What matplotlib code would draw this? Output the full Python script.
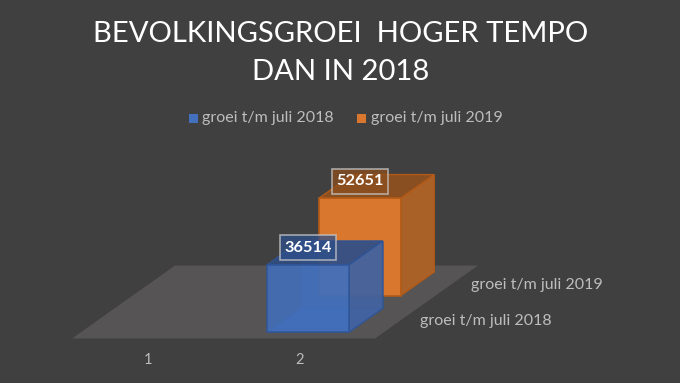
import matplotlib
matplotlib.use("Agg")
import matplotlib.pyplot as plt
from matplotlib.patches import Polygon, Rectangle

plt.rcParams["font.family"] = ["Lato", "DejaVu Sans"]

# --- Data ---
series_names = ["groei t/m juli 2018", "groei t/m juli 2019"]
series_values = [36514, 52651]
categories = ["1", "2"]
bar_category = 1  # both bars sit on the second category

# --- Colours ---
BG = "#404040"
FLOOR = "#565454"
TEXT = "#bdbdbd"
front_cols = ["#4270bd", "#d9772f"]
side_cols = ["#42629f", "#aa6128"]
top_cols = ["#2f4d85", "#8a4f20"]
edge_cols = ["#2f5597", "#b25a17"]
label_cols = ["#2f4f8a", "#8c4e1e"]

# --- Oblique projection, pixels of the 680x383 picture ---
X0, Y0 = 72, 338.5
CAT_W = 151.5       # px per category along the front edge
SLOT_DX, SLOT_DY = 51.5, 36.5   # px per series slot going back
PX_PER_UNIT = 1 / 541


def proj(x, z, v=0):
    return (X0 + CAT_W * x + SLOT_DX * z, Y0 - SLOT_DY * z - v * PX_PER_UNIT)


fig = plt.figure(figsize=(6.8, 3.83), dpi=100, facecolor=BG)
ax = fig.add_axes([0, 0, 1, 1])
ax.set_xlim(0, 680)
ax.set_ylim(383, 0)
ax.axis("off")

# Floor
n_cat, n_ser = len(categories), len(series_names)
ax.add_patch(Polygon([proj(0, 0), proj(n_cat, 0), proj(n_cat, n_ser), proj(0, n_ser)],
                     fc=FLOOR, ec="none", zorder=1))

# Bars, back one first so the front one covers it
BAR_W = 0.54
BAR_D = 0.65
for i in reversed(range(n_ser)):
    v = series_values[i]
    x0 = bar_category + (1 - BAR_W) / 2
    x1 = x0 + BAR_W
    z0 = i + (1 - BAR_D) / 2
    z1 = z0 + BAR_D
    z = 3 + (n_ser - i) * 2
    alpha = 0.86 if i == 0 else 1.0
    # hidden faces, only seen through the bar
    ax.add_patch(Polygon([proj(x0, z0), proj(x1, z0), proj(x1, z1), proj(x0, z1)],
                         fc=side_cols[i], ec=edge_cols[i], lw=0.5, zorder=z))
    ax.add_patch(Polygon([proj(x0, z1), proj(x1, z1), proj(x1, z1, v), proj(x0, z1, v)],
                         fc=side_cols[i], ec=edge_cols[i], lw=0.5, alpha=0.6, zorder=z))
    # visible faces
    ax.add_patch(Polygon([proj(x1, z0), proj(x1, z1), proj(x1, z1, v), proj(x1, z0, v)],
                         fc=side_cols[i], ec=edge_cols[i], lw=1, alpha=alpha, zorder=z))
    ax.add_patch(Polygon([proj(x0, z0, v), proj(x1, z0, v), proj(x1, z1, v), proj(x0, z1, v)],
                         fc=top_cols[i], ec=edge_cols[i], lw=1, alpha=alpha, zorder=z))
    ax.add_patch(Polygon([proj(x0, z0), proj(x1, z0), proj(x1, z0, v), proj(x0, z0, v)],
                         fc=front_cols[i], ec=edge_cols[i], lw=1.2, alpha=alpha, zorder=z))

# Data labels above the front top edge
for i in range(n_ser):
    v = series_values[i]
    cx, cy = proj(bar_category + 0.5, i + (1 - BAR_D) / 2, v)
    cy -= 17
    ax.add_patch(Rectangle((cx - 28, cy - 12.5), 56, 25, fc=label_cols[i], ec="#c8c8c8",
                           lw=1.2, alpha=0.75, zorder=20))
    ax.text(cx, cy, str(v), color="white", fontsize=11.8, fontweight="bold",
            ha="center", va="center", zorder=21)

# Category labels
for k, lab in enumerate(categories):
    px, _ = proj(k + 0.5, 0)
    ax.text(px, 360, lab, color=TEXT, fontsize=10.5, ha="center", va="center")

# Series labels on the depth axis
for i, name in enumerate(series_names):
    px, py = proj(n_cat, i + 0.5)
    ax.text(px + 19, py + 1, name, color=TEXT, fontsize=11.5, ha="left", va="center")

# Title
ax.text(340.5, 33.5, "BEVOLKINGSGROEI  HOGER TEMPO", color="white", fontsize=21.1,
        ha="center", va="center")
ax.text(341, 71.5, "DAN IN 2018", color="white", fontsize=21.1, ha="center", va="center")

# Legend
for sq_x, txt_x, col, name in zip([189, 357], [202, 371], front_cols, series_names):
    ax.add_patch(Rectangle((sq_x, 113.5), 9, 9, fc=col, ec="none"))
    ax.text(txt_x, 118, name, color=TEXT, fontsize=11.5, ha="left", va="center")

fig.savefig("out.png", dpi=100, facecolor=BG)
